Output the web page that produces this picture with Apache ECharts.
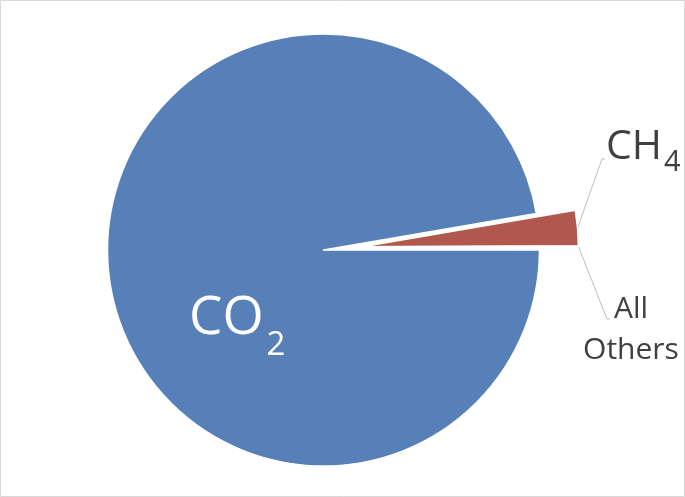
<!DOCTYPE html>
<html><head><meta charset="utf-8">
<script src="https://cdn.jsdelivr.net/npm/echarts@6/dist/echarts.min.js"></script>
<style>html,body{margin:0;padding:0;background:#fff}#c{width:685px;height:497px}</style>
</head><body><div id="c"></div>
<script>
// ---- data ----
const categories = ['CO2', 'CH4', 'All Others'];
const values = [97.3, 2.65, 0.05];
const labelTexts = ['{m|CO}{s|2}', '{m|CH}{s|4}', '{m|All}\n{m|Others}'];
const exploded = [false, true, true];

// ---- styles ----
const colors = ['#5780B8', '#B0584E', '#9BBB59'];
const FONT = 'Open Sans';
const CX = 323.5, CY = 250, R = 216, EXPLODE = 39;
const labelStyles = [
  { position: 'inside', rich: {
      m: { fontFamily: FONT, fontSize: 53, color: '#fff', lineHeight: 60 },
      s: { fontFamily: FONT, fontSize: 33, color: '#fff', lineHeight: 60, padding: [54, 0, 0, 3] } } },
  { position: 'outside', rich: {
      m: { fontFamily: FONT, fontSize: 41, color: '#404040', lineHeight: 50 },
      s: { fontFamily: FONT, fontSize: 29, color: '#404040', lineHeight: 50, padding: [32, 0, 0, 2] } } },
  { position: 'outside', align: 'center', rich: {
      m: { fontFamily: FONT, fontSize: 30, color: '#404040', lineHeight: 41, align: 'center' } } }
];
const labelPos = [
  { x: 189, y: 319, align: 'left', verticalAlign: 'middle' },
  { x: 606, y: 147, align: 'left', verticalAlign: 'middle', line: [[602, 159], [605, 159]] },
  { x: 631, y: 330, align: 'center', verticalAlign: 'middle', line: [[607, 319], [610, 319]] }
];

// explode offset direction from the exploded slices' mid angle
const total = values.reduce((a, b) => a + b, 0);
let expSum = 0; values.forEach((v, i) => { if (exploded[i]) expSum += v; });
const midAng = (expSum / 2) / total * 2 * Math.PI;
const ex = EXPLODE * Math.cos(midAng), ey = -EXPLODE * Math.sin(midAng);

function buildData(forExploded) {
  return categories.map((name, i) => {
    const mine = exploded[i] === forExploded;
    return {
      name, value: values[i],
      itemStyle: mine ? { color: colors[i], borderColor: '#fff', borderWidth: 1.5 }
                      : { color: 'rgba(0,0,0,0)', borderWidth: 0 },
      label: mine ? Object.assign({ show: true, formatter: labelTexts[i] }, labelStyles[i]) : { show: false },
      labelLine: { show: mine && labelStyles[i].position === 'outside' }
    };
  });
}

function layoutFn(p) {
  const i = p.dataIndex;
  const lp = labelPos[i];
  const out = { x: lp.x, y: lp.y, align: lp.align, verticalAlign: lp.verticalAlign };
  if (lp.line && p.labelLinePoints) out.labelLinePoints = [p.labelLinePoints[0]].concat(lp.line);
  return out;
}

const common = {
  type: 'pie',
  radius: [0, R],
  startAngle: 0,
  clockwise: true,
  avoidLabelOverlap: false,
  silent: true,
  emphasis: { disabled: true },
  labelLine: { lineStyle: { color: '#BFBFBF', width: 1 } },
  labelLayout: layoutFn
};

const chart = echarts.init(document.getElementById('c'), null, { renderer: 'canvas' });
chart.setOption({
  animation: false,
  backgroundColor: '#fff',
  graphic: [{ type: 'rect', shape: { x: 0.5, y: 0.5, width: 684, height: 496 },
    style: { fill: 'none', stroke: '#d9d9d9', lineWidth: 1 }, silent: true, z: 100 }],
  series: [
    Object.assign({}, common, { center: [CX, CY], data: buildData(false) }),
    Object.assign({}, common, { center: [CX + ex, CY + ey], data: buildData(true) })
  ]
});
</script></body></html>
